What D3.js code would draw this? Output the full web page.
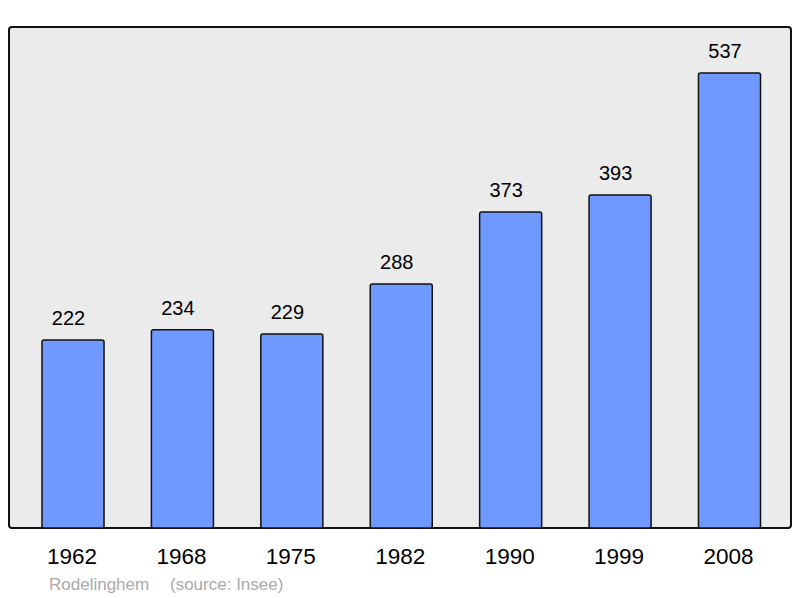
<!DOCTYPE html>
<html>
<head>
<meta charset="utf-8">
<script src="https://cdn.jsdelivr.net/npm/d3@7"></script>
<style>
  body { margin: 0; background: #fff; }
  text { font-family: "Liberation Sans", Arial, sans-serif; }
</style>
</head>
<body>
<div id="graph"></div>
<script>
var years = ['1962', '1968', '1975', '1982', '1990', '1999', '2008']
var population = [222, 234, 229, 288, 373, 393, 537]
var commune = 'Rodelinghem'
var source = '(source: Insee)'

var w = 800, h = 598

var svg = d3.select('#graph')
  .append('svg')
  .attr('width', w)
  .attr('height', h)

// plot frame
svg.append('rect')
  .attr('x', 9).attr('y', 27)
  .attr('width', 782).attr('height', 501)
  .attr('rx', 3)
  .style('fill', '#ebebeb')
  .style('stroke', '#111')
  .style('stroke-width', 2)

var x = d3.scaleBand()
  .domain(years)
  .range([18.3, 784.2])
  .paddingInner(0.433)
  .paddingOuter(0.2165)

var y = d3.scaleLinear()
  .domain([0, 537])
  .range([528, 73])

svg.selectAll('.bar')
  .data(years)
  .enter()
  .append('rect')
  .attr('class', 'bar')
  .attr('x', d => x(d))
  .attr('y', (d, i) => y(population[i]))
  .attr('width', x.bandwidth())
  .attr('height', (d, i) => y(0) - y(population[i]))
  .attr('rx', 2)
  .style('fill', '#7099ff')
  .style('stroke', '#111')
  .style('stroke-width', 1.5)

svg.selectAll('.val')
  .data(years)
  .enter()
  .append('text')
  .attr('class', 'val')
  .attr('x', d => x(d) + x.bandwidth() / 2 - 4.5)
  .attr('y', (d, i) => y(population[i]) - 15)
  .attr('text-anchor', 'middle')
  .style('font-size', '20px')
  .text((d, i) => population[i])

// x axis labels
var axis = d3.axisBottom(x).tickSize(0).tickPadding(0)
var g = svg.append('g')
  .attr('transform', 'translate(-1,548)')
  .call(axis)
g.select('.domain').remove()
g.selectAll('text')
  .attr('dy', '0.71em')
  .style('font-size', '22.5px')
  .style('font-family', '"Liberation Sans", Arial, sans-serif')
  .style('fill', '#000')

svg.append('text')
  .attr('x', 49).attr('y', 590)
  .style('font-size', '17px')
  .style('fill', '#aaa')
  .text(commune)

svg.append('text')
  .attr('x', 170).attr('y', 590)
  .style('font-size', '17px')
  .style('fill', '#aaa')
  .text(source)
</script>
</body>
</html>
